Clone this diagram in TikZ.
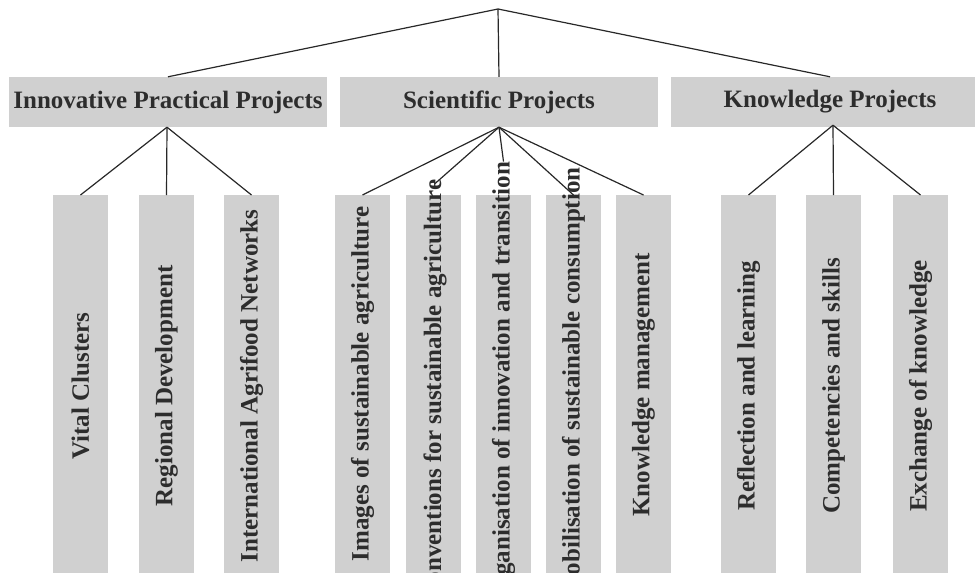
\documentclass[tikz,border=0pt]{standalone}
\usepackage{fontspec}
\setmainfont{Liberation Serif}
\definecolor{boxgray}{RGB}{208,208,208}
\definecolor{inkgray}{RGB}{45,45,45}
\definecolor{linegray}{RGB}{40,40,40}
\begin{document}
\begin{tikzpicture}[x=1pt,y=-1pt,
  link/.style={draw=linegray, line width=1.2pt},
  groupbox/.style={fill=boxgray, minimum width=318pt, minimum height=50pt,
    inner sep=0pt, text=inkgray, font=\fontsize{25}{30}\selectfont\bfseries},
  leafbox/.style={fill=boxgray, minimum width=55pt, minimum height=390pt,
    inner sep=0pt, anchor=north},
  leaftext/.style={rotate=90, inner sep=0pt, text=inkgray,
    font=\fontsize{25}{30}\selectfont\bfseries}]
\useasboundingbox (0,0) rectangle (975,573);
\clip (0,0) rectangle (975,573);

% root of the tree
\coordinate (root) at (498,9);

% project groups
\node[groupbox] (ipp) at (168,102) {Innovative Practical Projects};
\node[groupbox] (sp)  at (499,102) {Scientific Projects};
\node[groupbox] (kp)  at (830,102) {Knowledge Projects};

% fork points below the group boxes
\coordinate (ippfork) at ([xshift=-1pt]ipp.south);
\coordinate (spfork)  at (sp.south);
\coordinate (kpfork)  at ([xshift=3pt,yshift=2pt]kp.south);

% leaf boxes
\node[leafbox] (b1)  at (80.5,195) {};
\node[leafbox] (b2)  at (166.5,195) {};
\node[leafbox] (b3)  at (251.5,195) {};
\node[leafbox] (b4)  at (362.5,195) {};
\node[leafbox] (b5)  at (433.5,195) {};
\node[leafbox] (b6)  at (503.5,195) {};
\node[leafbox] (b7)  at (573.5,195) {};
\node[leafbox] (b8)  at (643.5,195) {};
\node[leafbox] (b9)  at (748.5,195) {};
\node[leafbox] (b10) at (833.5,195) {};
\node[leafbox] (b11) at (920.5,195) {};

% leaf labels, set vertically
\node[leaftext] (t1)  at (80.5,386)  {Vital Clusters};
\node[leaftext] (t2)  at (166.5,386) {Regional Development};
\node[leaftext] (t3)  at (251.5,386) {International Agrifood Networks};
\node[leaftext] (t4)  at (362.5,384) {Images of sustainable agriculture};
\node[leaftext] (t5)  at (435,391)   {Conventions for sustainable agriculture};
\node[leaftext] (t6)  at (503.5,384) {Organisation of innovation and transition};
\node[leaftext] (t7)  at (573.5,383) {Mobilisation of sustainable consumption};
\node[leaftext] (t8)  at (643.5,385) {Knowledge management};
\node[leaftext] (t9)  at (748.5,386) {Reflection and learning};
\node[leaftext] (t10) at (833.5,386) {Competencies and skills};
\node[leaftext] (t11) at (920.5,386) {Exchange of knowledge};

% connectors
\draw[link] (root) -- (ipp.north);
\draw[link] (root) -- (sp.north);
\draw[link] (root) -- (kp.north);

\draw[link] (ippfork) -- (b1.north);
\draw[link] (ippfork) -- (b2.north);
\draw[link] (ippfork) -- (b3.north);

\draw[link] (spfork) -- (b4.north);
\draw[link] (spfork) -- ([yshift=-4pt]t5.east);
\draw[link] (spfork) -- (t6.east);
\draw[link] (spfork) -- (b7.north);
\draw[link] (spfork) -- (b8.north);

\draw[link] (kpfork) -- (b9.north);
\draw[link] (kpfork) -- (b10.north);
\draw[link] (kpfork) -- (b11.north);
\end{tikzpicture}
\end{document}
